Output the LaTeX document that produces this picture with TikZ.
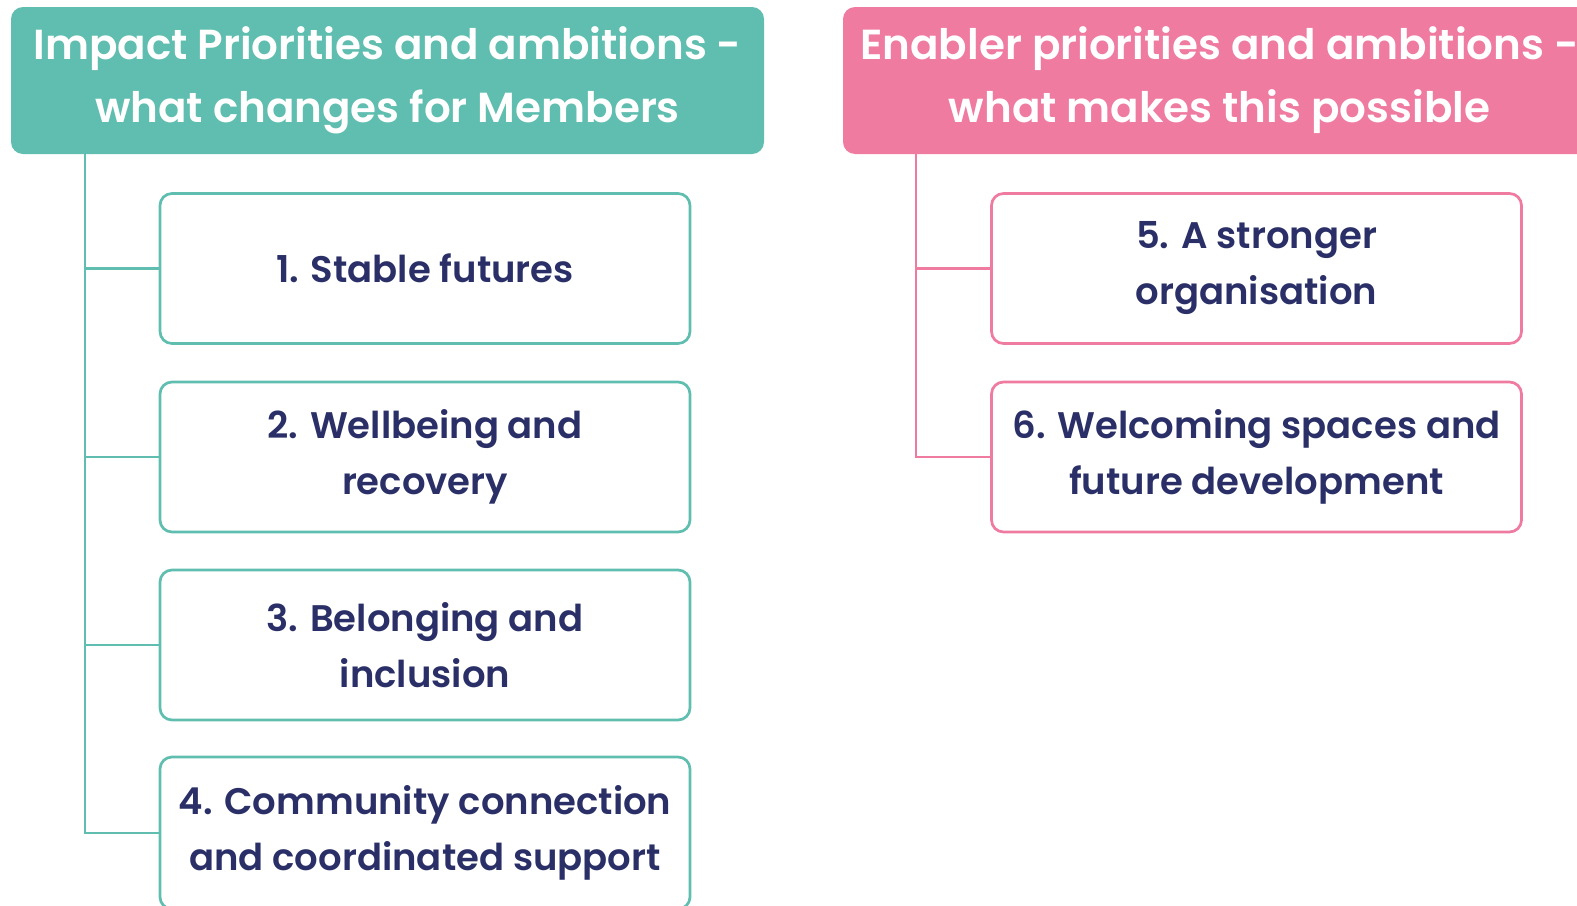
\documentclass[tikz,border=0pt]{standalone}
\usepackage{fontspec}
\setmainfont{Poppins}[UprightFont=* Medium, BoldFont=* SemiBold]
\definecolor{tealc}{HTML}{5FBEAF}
\definecolor{pinkc}{HTML}{EF7BA1}
\definecolor{navyc}{HTML}{2A3067}
\begin{document}
\begin{tikzpicture}[x=0.5pt,y=-0.5pt,
  hdr/.style={fill=#1, rounded corners=6pt, text=white, align=center,
    font=\fontsize{21}{31.5}\selectfont\bfseries, minimum width=376.5pt,
    minimum height=73.5pt, inner sep=0pt},
  item/.style={draw=#1, line width=1.35pt, fill=white, rounded corners=6pt,
    text=navyc, align=center, font=\fontsize{18.5}{28}\selectfont\bfseries,
    minimum width=265pt, minimum height=75pt, inner sep=0pt},
  link/.style={draw=#1, line width=1.4pt}]
\useasboundingbox (0,0) rectangle (1577,905);
\clip (0,0) rectangle (1577,905);

% column headers
\node[hdr=tealc] (hL) at (387.5,80.5) {Impact Priorities and ambitions -\\what changes for Members};
\node[hdr=pinkc] (hR) at (1219.5,80.5) {Enabler priorities and ambitions -\\what makes this possible};

% impact priorities
\node[item=tealc] (b1) at (425,268.5) {1. Stable futures};
\node[item=tealc] (b2) at (425,457) {2. Wellbeing and\\recovery};
\node[item=tealc] (b3) at (425,645) {3. Belonging and\\inclusion};
\node[item=tealc, minimum height=76pt] (b4) at (425,833) {4. Community connection\\and coordinated support};

% enabler priorities
\node[item=pinkc] (b5) at (1256.5,268.5) {5. A stronger\\organisation};
\node[item=pinkc] (b6) at (1256.5,457) {6. Welcoming spaces and\\future development};

% tree connectors
\coordinate (sL) at (85,154);
\coordinate (sR) at (916,154);
\draw[link=tealc] (sL) |- (b4.west);
\foreach \b in {b1,b2,b3} \draw[link=tealc] (sL |- \b.west) -- (\b.west);
\draw[link=pinkc] (sR) |- (b6.west);
\draw[link=pinkc] (sR |- b5.west) -- (b5.west);
\end{tikzpicture}
\end{document}
